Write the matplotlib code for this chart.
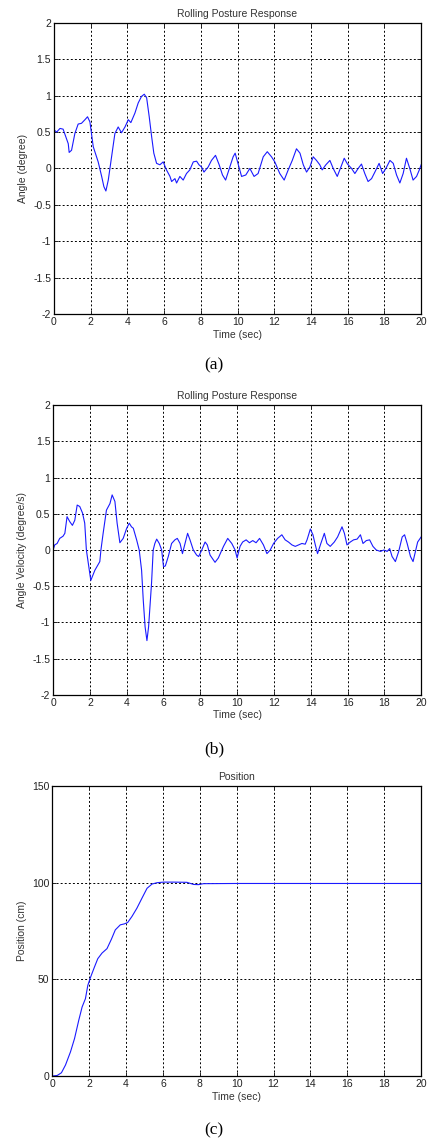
import matplotlib
matplotlib.use("Agg")
import matplotlib.pyplot as plt

plt.rcParams['font.family'] = ['Liberation Sans', 'DejaVu Sans']
plt.rcParams['axes.unicode_minus'] = False

# rolling angle (degree)
t_angle = [0, 0.15, 0.33, 0.5, 0.78, 0.83, 0.96, 1.14, 1.32, 1.5, 1.69, 1.83, 1.96,
           2.14, 2.41, 2.6, 2.72, 2.83, 2.96, 3.14, 3.32, 3.5, 3.68, 3.87, 4.05, 4.19,
           4.41, 4.59, 4.77, 4.92, 5.05, 5.19, 5.32, 5.44, 5.59, 5.77, 5.95, 6.13, 6.32,
           6.41, 6.59, 6.68, 6.86, 7.04, 7.22, 7.4, 7.59, 7.77, 7.9, 8.04, 8.17, 8.4,
           8.58, 8.8, 9.0, 9.18, 9.35, 9.58, 9.76, 9.87, 10.0, 10.22, 10.45, 10.67, 10.9,
           11.12, 11.4, 11.62, 11.85, 12.03, 12.3, 12.54, 12.76, 12.98, 13.21, 13.4,
           13.58, 13.76, 13.94, 14.12, 14.3, 14.48, 14.61, 14.81, 15.03, 15.21, 15.43,
           15.63, 15.81, 15.99, 16.21, 16.39, 16.57, 16.75, 16.93, 17.11, 17.3, 17.48,
           17.71, 17.9, 18.08, 18.3, 18.48, 18.66, 18.84, 19.02, 19.2, 19.38, 19.56,
           19.75, 19.9, 20.0]
angle = [0.53, 0.5, 0.55, 0.54, 0.34, 0.22, 0.25, 0.48, 0.61, 0.62, 0.67, 0.71, 0.64,
         0.30, 0.09, -0.11, -0.25, -0.31, -0.16, 0.16, 0.48, 0.57, 0.49, 0.57, 0.67, 0.63,
         0.76, 0.9, 0.99, 1.02, 0.97, 0.71, 0.44, 0.21, 0.07, 0.05, 0.09, -0.02, -0.11,
         -0.18, -0.14, -0.2, -0.11, -0.16, -0.07, -0.02, 0.09, 0.1, 0.05, 0.02, -0.05, 0.02,
         0.11, 0.18, 0.05, -0.09, -0.16, 0.02, 0.16, 0.21, 0.09, -0.11, -0.09, 0.0, -0.11,
         -0.07, 0.16, 0.23, 0.16, 0.09, -0.07, -0.16, -0.02, 0.11, 0.27, 0.21,
         0.05, -0.05, 0.02, 0.16, 0.11, 0.05, -0.02, 0.05, 0.11, 0.0, -0.11,
         0.02, 0.14, 0.06, 0.0, -0.07, 0.0, 0.06, -0.07, -0.18, -0.14, -0.05,
         0.07, -0.07, 0.0, 0.11, 0.07, -0.09, -0.2, -0.07, 0.14, 0.0, -0.16,
         -0.11, -0.02, 0.05]

# angular velocity (degree/s)
t_vel = [0, 0.09, 0.22, 0.36, 0.54, 0.64, 0.76, 0.91, 1.05, 1.18, 1.31, 1.45, 1.6, 1.72,
         1.81, 2.05, 2.27, 2.54, 2.6, 2.72, 2.9, 3.09, 3.21, 3.36, 3.48, 3.63, 3.81, 4.0,
         4.14, 4.26, 4.36, 4.54, 4.68, 4.81, 4.9, 5.0, 5.1, 5.19, 5.26, 5.35, 5.44, 5.53,
         5.63, 5.77, 5.9, 6.0, 6.1, 6.26, 6.35, 6.44, 6.62, 6.75, 6.9, 7.03, 7.17, 7.31,
         7.44, 7.62, 7.8, 7.91, 8.08, 8.26, 8.38, 8.53, 8.8, 8.98, 9.26, 9.49, 9.71, 9.89,
         10.0, 10.16, 10.3, 10.49, 10.67, 10.85, 11.03, 11.22, 11.43, 11.62, 11.8, 11.98,
         12.2, 12.43, 12.61, 12.79, 12.98, 13.16, 13.34, 13.52, 13.7, 13.8, 13.98, 14.12,
         14.25, 14.37, 14.55, 14.74, 14.88, 15.06, 15.28, 15.46, 15.7, 15.83, 15.97, 16.15,
         16.33, 16.52, 16.7, 16.84, 17.02, 17.2, 17.38, 17.56, 17.79, 17.97, 18.15, 18.29,
         18.42, 18.6, 18.78, 18.97, 19.1, 19.24, 19.42, 19.56, 19.69, 19.81, 20.0]
velocity = [0.0, 0.07, 0.09, 0.16, 0.19, 0.23, 0.46, 0.39, 0.34, 0.41, 0.62, 0.6, 0.51, 0.37,
            0.0, -0.42, -0.28, -0.16, 0.0, 0.23, 0.55, 0.64, 0.76, 0.67, 0.37, 0.1, 0.16, 0.3,
            0.37, 0.32, 0.3, 0.14, 0.0, -0.28, -0.69, -1.06, -1.25, -1.06, -0.79, -0.46, 0.0, 0.09,
            0.15, 0.09, 0.0, -0.23, -0.22, -0.09, 0.0, 0.09, 0.14, 0.16, 0.09, -0.05, 0.09, 0.23,
            0.14, 0.0, -0.07, -0.09, 0.0, 0.11, 0.07, -0.07, -0.17, -0.11, 0.05, 0.16, 0.09, 0.0,
            -0.11, 0.05, 0.11, 0.14, 0.1, 0.13, 0.1, 0.16, 0.07, -0.05, 0.0, 0.09,
            0.16, 0.21, 0.14, 0.11, 0.07, 0.05, 0.07, 0.09, 0.08, 0.14, 0.29, 0.21,
            0.07, -0.05, 0.09, 0.23, 0.09, 0.05, 0.11, 0.18, 0.32, 0.23, 0.07, 0.11,
            0.14, 0.15, 0.21, 0.09, 0.13, 0.14, 0.05, 0.0, -0.02, 0.0, -0.02, 0.02,
            -0.09, -0.16, -0.02, 0.18, 0.21, 0.09, -0.09, -0.16, -0.02, 0.11, 0.18]

# position (cm)
t_pos = [0, 0.27, 0.5, 0.72, 0.99, 1.21, 1.44, 1.62, 1.8, 1.93, 2.07, 2.29, 2.47, 2.7,
         2.97, 3.21, 3.42, 3.69, 3.91, 4.09, 4.32, 4.59, 4.86, 5.14, 5.41, 5.68, 6.04,
         6.58, 7.3, 7.66, 7.93, 8.2, 10.0, 14.0, 20.0]
position = [0, 0.3, 1.7, 5.7, 12.5, 19.4, 28.9, 35.7, 40.0, 46.9, 50.9, 56.4, 60.7, 63.6,
            65.9, 70.8, 75.6, 78.2, 78.7, 79.4, 82.5, 86.8, 91.9, 97.1, 99.3, 100.0, 100.3,
            100.3, 100.2, 99.1, 99.0, 99.5, 99.6, 99.6, 99.6]

x_ticks = list(range(0, 21, 2))
angle_ticks = [-2, -1.5, -1, -0.5, 0, 0.5, 1, 1.5, 2]
angle_labels = ['-2', '-1.5', '-1', '-0.5', '0', '0.5', '1', '1.5', '2']
pos_ticks = [0, 50, 100, 150]

fig = plt.figure(figsize=(4.28, 11.4), dpi=100)

panels = [
    ([0.126, 0.7246, 0.858, 0.2553], t_angle, angle, 'Rolling Posture Response',
     'Angle (degree)', (-2, 2), angle_ticks, angle_labels, '(a)', 0.6798),
    ([0.124, 0.3904, 0.860, 0.2543], t_vel, velocity, 'Rolling Posture Response',
     'Angle Velocity (degree/s)', (-2, 2), angle_ticks, angle_labels, '(b)', 0.343),
    ([0.122, 0.0561, 0.862, 0.2544], t_pos, position, 'Position',
     'Position (cm)', (0, 150), pos_ticks, [str(v) for v in pos_ticks], '(c)', 0.0088),
]

for rect, xs, ys, title, ylabel, ylim, yt, ytl, tag, tag_y in panels:
    ax = fig.add_axes(rect)
    ax.plot(xs, ys, color='#1a1aff', lw=0.8)
    ax.set_xlim(0, 20)
    ax.set_ylim(*ylim)
    ax.set_xticks(x_ticks)
    ax.set_yticks(yt)
    ax.set_yticklabels(ytl)
    ax.grid(True, color='black', linestyle=(0, (2, 2.2)), linewidth=0.7)
    ax.tick_params(direction='in', length=3, width=0.7, labelsize=7.5, pad=2,
                   colors='#222222', top=True, right=True)
    for sp in ax.spines.values():
        sp.set_linewidth(0.9)
    ax.set_title(title, fontsize=7.5, color='#333333', pad=4)
    ax.set_xlabel('Time (sec)', fontsize=7.5, color='#333333', labelpad=2)
    ax.set_ylabel(ylabel, fontsize=7.5, color='#333333', labelpad=4)
    fig.text(0.5, tag_y, tag, ha='center', va='center', fontsize=12.5,
             family=['Liberation Serif', 'DejaVu Serif'])

fig.savefig('out.png', dpi=100)
